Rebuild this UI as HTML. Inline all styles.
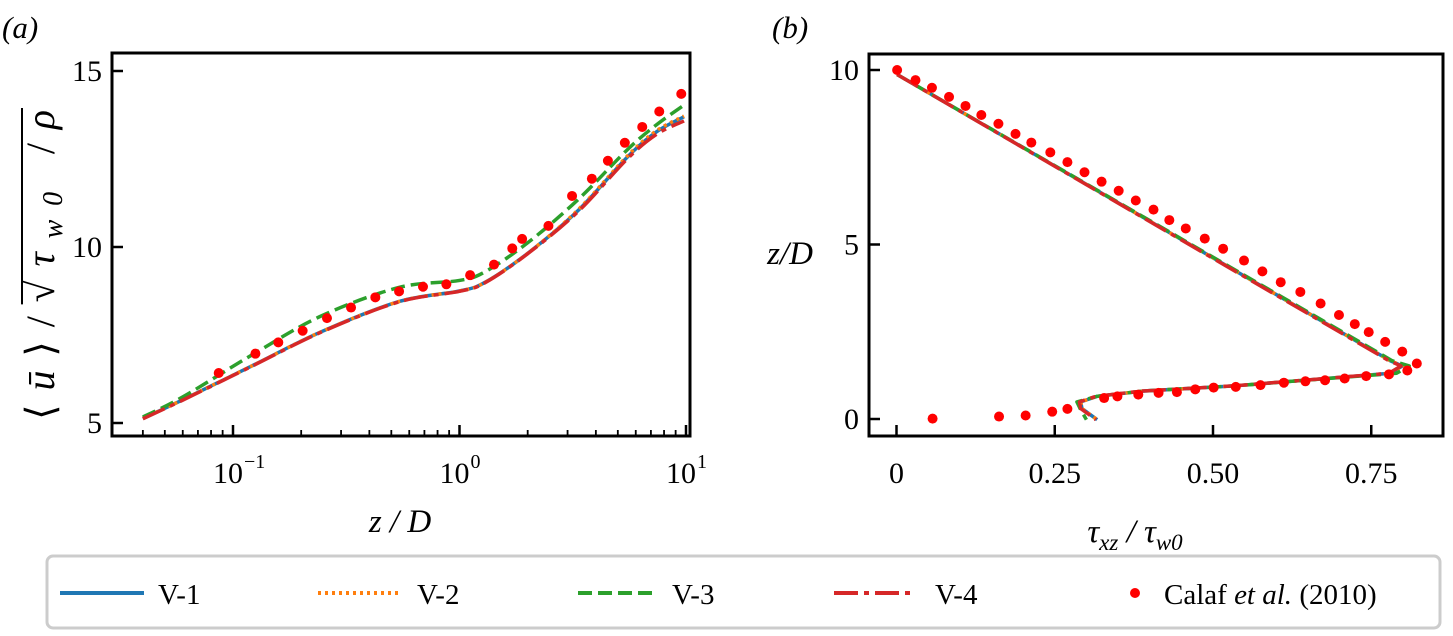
<!DOCTYPE html>
<html><head><meta charset="utf-8"><style>
html,body{margin:0;padding:0;background:#fff;}
svg text{font-family:"Liberation Serif",serif;fill:#000;}
</style></head><body>
<svg id="fig" width="1453" height="631" viewBox="0 0 1453 631" xmlns="http://www.w3.org/2000/svg">
<text x="2" y="38" font-size="31" font-style="italic">(a)</text>
<text x="772" y="38" font-size="31" font-style="italic">(b)</text>
<g id="pa"></g>
<g id="pb"></g>
<text x="400" y="532" font-size="33" text-anchor="middle" font-style="italic">z / D</text>
<g transform="translate(54,262) rotate(-90)">
<text id="ytitle" x="-158" y="0" font-size="40" textLength="310" lengthAdjust="spacing"><tspan>⟨</tspan><tspan font-style="italic">ū</tspan><tspan>⟩/√</tspan><tspan font-style="italic">τ</tspan><tspan font-style="italic" font-size="28" dy="8">w0</tspan><tspan dy="-8"> /</tspan><tspan font-style="italic">ρ</tspan></text>
<line id="yover" x1="0" y1="-32" x2="0" y2="-32" stroke="#000" stroke-width="2"/>
</g>
<text x="790" y="264" font-size="33" text-anchor="middle" font-style="italic">z/D</text>
<text x="1135" y="542" font-size="33" text-anchor="middle" font-style="italic">τ<tspan font-size="23" dy="8">xz</tspan><tspan dy="-8"> / τ</tspan><tspan font-size="23" dy="8">w0</tspan></text>
<g>
<rect x="47" y="556" width="1393" height="72" rx="6" fill="#fff" stroke="#ccc" stroke-width="3"/>
<g><line x1="60" y1="593" x2="144" y2="593" stroke="#1f77b4" stroke-width="4"/><text x="158" y="604" font-size="29">V-1</text></g>
<g><line x1="318" y1="593" x2="400" y2="593" stroke="#ff7f0e" stroke-width="4" stroke-dasharray="3,4"/><text x="417" y="604" font-size="29">V-2</text></g>
<g><line x1="578" y1="593" x2="656" y2="593" stroke="#2ca02c" stroke-width="4" stroke-dasharray="14,6"/><text x="672" y="604" font-size="29">V-3</text></g>
<g><line x1="834" y1="593" x2="914" y2="593" stroke="#d62728" stroke-width="4" stroke-dasharray="24,6,5,6"/><text x="935" y="604" font-size="29">V-4</text></g>
<g><circle cx="1135" cy="593" r="5" fill="#ff0000"/><text x="1164" y="604" font-size="29">Calaf <tspan font-style="italic">et al.</tspan> (2010)</text></g>
</g>
</svg>
<script>
// Panel (a) data
const aZ = [0.04,0.06,0.121,0.245,0.54,1.0,1.3,2.0,3.33,5.5,7.4,9.8];
const aV1 = [5.13,5.66,6.62,7.59,8.45,8.75,9.0,9.82,11.03,12.55,13.27,13.7];
const aV2 = [5.13,5.66,6.62,7.59,8.45,8.75,9.0,9.82,11.05,12.58,13.3,13.72];
const aV3 = [5.17,5.74,6.93,8.04,8.85,9.05,9.3,10.12,11.34,12.76,13.47,14.03];
const aV4 = [5.12,5.65,6.61,7.58,8.44,8.74,8.99,9.81,11.0,12.5,13.2,13.58];
const aDotZ = [0.0865,0.1256,0.1585,0.203,0.26,0.332,0.425,0.541,0.69,0.875,1.114,1.42,1.71,1.89,2.47,3.14,3.84,4.52,5.37,6.41,7.62,9.53];
const aDotV = [6.42,6.97,7.29,7.62,7.98,8.28,8.57,8.74,8.87,8.94,9.2,9.5,9.96,10.23,10.6,11.45,11.94,12.45,12.96,13.41,13.85,14.35];
const aYTicks = [5,10,15];
const aXTicks = [-1,0,1];
// Panel (b) data
const bZ = [9.87,1.67,1.52,1.31,1.16,0.95,0.8,0.65,0.49,0.3,-0.02];
const bV1 = [0.001,0.78,0.799,0.78,0.679,0.534,0.389,0.317,0.291,0.293,0.317];
const bV2 = [0.001,0.78,0.8,0.78,0.679,0.534,0.389,0.317,0.291,0.293,0.317];
const bV3 = [0.001,0.783,0.81,0.79,0.68,0.534,0.389,0.317,0.285,0.29,0.3];
const bV4 = [0.001,0.778,0.797,0.778,0.677,0.532,0.387,0.315,0.289,0.291,0.315];
const bDotT = [0.001,0.03,0.056,0.083,0.109,0.134,0.161,0.188,0.213,0.243,0.27,0.297,0.324,0.351,0.378,0.406,0.431,0.457,0.487,0.516,0.549,0.578,0.607,0.638,0.67,0.699,0.724,0.746,0.772,0.799,0.822,0.807,0.778,0.742,0.708,0.677,0.646,0.612,0.575,0.536,0.501,0.472,0.443,0.414,0.382,0.349,0.328,0.27,0.246,0.204,0.162,0.057];
const bDotZ = [10.0,9.71,9.49,9.23,8.97,8.71,8.46,8.17,7.92,7.64,7.36,7.07,6.8,6.54,6.26,6.0,5.7,5.46,5.17,4.88,4.54,4.23,3.92,3.64,3.31,2.98,2.72,2.49,2.21,1.93,1.59,1.39,1.28,1.23,1.16,1.11,1.08,1.04,0.97,0.92,0.9,0.85,0.77,0.75,0.7,0.65,0.6,0.29,0.21,0.1,0.07,0.01];
const bXTicks = [0,0.25,0.5,0.75];
const bXLabels = ["0","0.25","0.50","0.75"];
const bYTicks = [0,5,10];

const NS="http://www.w3.org/2000/svg";
function mk(parent,tag,attrs){const e=document.createElementNS(NS,tag);for(const k in attrs)e.setAttribute(k,attrs[k]);parent.appendChild(e);return e;}
const styles=[
 {c:"#1f77b4",d:"none"},{c:"#ff7f0e",d:"3,4"},{c:"#2ca02c",d:"14,6"},{c:"#d62728",d:"24,6,5,6"}];

// overline over radicand
try{const yt=document.getElementById('ytitle');const n=yt.getNumberOfChars();
 const s=yt.getStartPositionOfChar(4).x;const e=yt.getEndPositionOfChar(n-1).x;
 const ol=document.getElementById('yover');ol.setAttribute('x1',s-2);ol.setAttribute('x2',e+2);}catch(err){}

// Panel a
const pa=document.getElementById('pa');
const axL=112,axR=690,axT=53,axB=436;
const ax=z=>233+(Math.log10(z)+1)*226.5;
const ay=v=>423-(v-5)*35.2;
let r=mk(pa,'rect',{x:axL,y:axT,width:axR-axL,height:axB-axT,fill:'none',stroke:'#000','stroke-width':3});


aYTicks.forEach(v=>{mk(pa,'line',{x1:axL,x2:axL+11,y1:ay(v),y2:ay(v),stroke:'#000','stroke-width':2.5});
 const t=mk(pa,'text',{x:axL-10,y:ay(v)+10,'font-size':30,'text-anchor':'end'});t.textContent=v;
 
 });
aXTicks.forEach(p=>{const x=ax(Math.pow(10,p));mk(pa,'line',{x1:x,x2:x,y1:axB,y2:axB-11,stroke:'#000','stroke-width':2.5});
 const t=mk(pa,'text',{x:x-5,y:axB+47,'font-size':30,'text-anchor':'middle'});t.textContent='10';
 
 
 const s=mk(pa,'text',{x:x+11,y:axB+32,'font-size':20});s.textContent=p<0?'−1':String(p);});
for(let d=-2;d<=0;d++)for(let m=2;m<=9;m++){const z=m*Math.pow(10,d);if(z<0.04||z>10)continue;const x=ax(z);
 mk(pa,'line',{x1:x,x2:x,y1:axB,y2:axB-6,stroke:'#000','stroke-width':1.8});}
const aSeries=[aV1,aV2,aV3,aV4];const aNames=['series-v1','series-v2','series-v3','series-v4'];
function smooth(pts){let d='M'+pts[0][0]+','+pts[0][1];for(let i=0;i<pts.length-1;i++){const p0=pts[Math.max(i-1,0)],p1=pts[i],p2=pts[i+1],p3=pts[Math.min(i+2,pts.length-1)];
 const c1=[p1[0]+(p2[0]-p0[0])/6,p1[1]+(p2[1]-p0[1])/6],c2=[p2[0]-(p3[0]-p1[0])/6,p2[1]-(p3[1]-p1[1])/6];d+=' C'+c1+' '+c2+' '+p2;}return d;}
aSeries.forEach((s,i)=>{const p=mk(pa,'path',{d:smooth(aZ.map((z,j)=>[ax(z),ay(s[j])])),fill:'none',stroke:styles[i].c,'stroke-width':3.5,'stroke-dasharray':styles[i].d});
 
 });
aDotZ.forEach((z,j)=>{const c=mk(pa,'circle',{cx:ax(z),cy:ay(aDotV[j]),r:5,fill:'#ff0000'});
 
 });

// Panel b
const pb=document.getElementById('pb');
const bL=869,bR=1443,bT=54,bB=436;
const bx=t=>896.5+t*633;
const by=z=>419-z*34.9;
r=mk(pb,'rect',{x:bL,y:bT,width:bR-bL,height:bB-bT,fill:'none',stroke:'#000','stroke-width':3});


bYTicks.forEach(v=>{mk(pb,'line',{x1:bL,x2:bL+11,y1:by(v),y2:by(v),stroke:'#000','stroke-width':2.5});
 const t=mk(pb,'text',{x:bL-10,y:by(v)+10,'font-size':30,'text-anchor':'end'});t.textContent=v;
 
 });
bXTicks.forEach((v,i)=>{const x=bx(v);mk(pb,'line',{x1:x,x2:x,y1:bB,y2:bB-11,stroke:'#000','stroke-width':2.5});
 const t=mk(pb,'text',{x:x,y:bB+47,'font-size':30,'text-anchor':'middle'});t.textContent=bXLabels[i];
 
 });
const bSeries=[bV1,bV2,bV3,bV4];
bSeries.forEach((s,i)=>{const pts=bZ.map((z,j)=>[bx(s[j]),by(z)]);
 const p=mk(pb,'path',{d:'M'+pts.map(q=>q.join(',')).join(' L'),fill:'none',stroke:styles[i].c,'stroke-width':3.5,'stroke-dasharray':styles[i].d,'stroke-linejoin':'round'});
 
 });
bDotT.forEach((t,j)=>{const c=mk(pb,'circle',{cx:bx(t),cy:by(bDotZ[j]),r:5,fill:'#ff0000'});
 
 });
</script>
</body></html>
